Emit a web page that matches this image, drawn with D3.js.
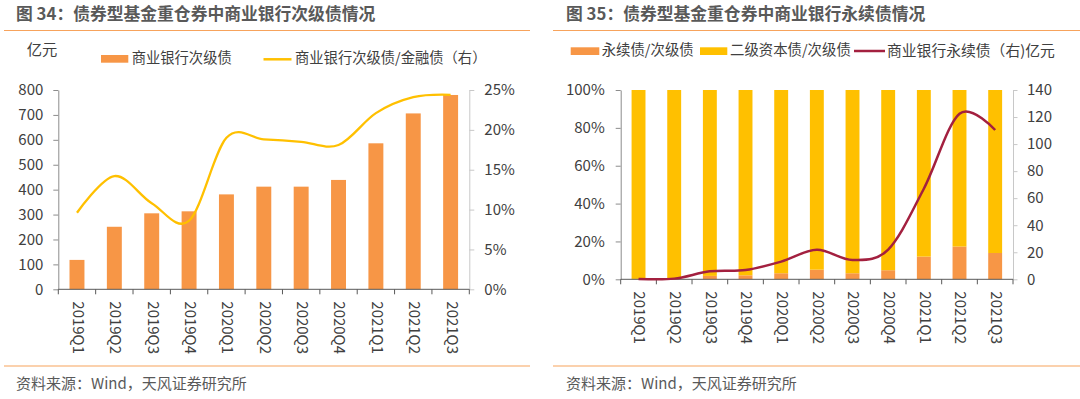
<!DOCTYPE html>
<html>
<head>
<meta charset="utf-8">
<script src="https://cdn.jsdelivr.net/npm/d3@7"></script>
<style>
  html, body { margin: 0; padding: 0; background: #fff; }
  svg { display: block; font-family: "Noto Sans CJK SC", "Noto Sans", sans-serif; }
</style>
</head>
<body>
<svg id="chart" width="1080" height="399"></svg>
<script>
// ---------------- DATA ----------------
const quarters = ["2019Q1","2019Q2","2019Q3","2019Q4","2020Q1","2020Q2","2020Q3","2020Q4","2021Q1","2021Q2","2021Q3"];

// Chart 34
const subDebt = [118, 251, 305, 313, 381, 412, 412, 439, 586, 706, 780];          // 亿元
const subDebtRatio = [9.6, 14.2, 10.8, 8.6, 19.0, 18.8, 18.5, 18.1, 22.1, 24.1, 24.4]; // %
const leftTicks34 = [0, 100, 200, 300, 400, 500, 600, 700, 800];
const rightTicks34 = [0, 5, 10, 15, 20, 25];

// Chart 35
const perpShare = [0.2, 0.4, 1.8, 2.1, 3.2, 5.1, 3.2, 4.8, 12.0, 17.3, 13.9];     // %
const tier2Share = perpShare.map(v => 100 - v);                                   // %
const perpAmount = [0.3, 0.5, 5.9, 6.9, 13.1, 21.8, 14.3, 22, 67, 122.5, 110.4];  // 亿元
const leftTicks35 = [0, 20, 40, 60, 80, 100];
const rightTicks35 = [0, 20, 40, 60, 80, 100, 120, 140];

const titles = ["图 34：债券型基金重仓券中商业银行次级债情况", "图 35：债券型基金重仓券中商业银行永续债情况"];
const source = "资料来源：Wind，天风证券研究所";

// ---------------- STYLE ----------------
const ORANGE = "#F79646", YELLOW = "#FFC000", CRIMSON = "#A3203F";
const TXT = "#404040", TITLE = "#595959", RULE = "#F7A35C";

const svg = d3.select("#chart");

// Titles, rules, source
[[16, 4, 530], [566, 553, 1080]].forEach(([tx, x0, x1], i) => {
  svg.append("text").attr("x", tx).attr("y", 19.8).attr("font-size", 16.8).attr("font-weight", "bold")
    .attr("fill", TITLE).text(titles[i]);
  svg.append("line").attr("x1", x0).attr("x2", x1).attr("y1", 30.5).attr("y2", 30.5)
    .attr("stroke", RULE).attr("stroke-width", 1.2);
  svg.append("line").attr("x1", x0).attr("x2", x1).attr("y1", 366).attr("y2", 366)
    .attr("stroke", RULE).attr("stroke-width", 1.2);
  svg.append("text").attr("x", tx).attr("y", 385).attr("dominant-baseline", "middle")
    .attr("font-size", 15).attr("fill", TITLE).text(source);
});

function styleAxis(g, color) {
  g.select(".domain").attr("stroke", color);
  g.selectAll(".tick line").attr("stroke", color);
  g.selectAll(".tick text").attr("fill", TXT).attr("font-size", 15)
    .attr("font-family", "'Noto Sans CJK SC', sans-serif");
}

function xAxisLabels(g, x, y0, off) {
  const r = x.range();
  g.append("line").attr("x1", r[0]).attr("x2", r[1]).attr("y1", y0).attr("y2", y0)
    .attr("stroke", "#595959").attr("stroke-width", 1);
  const bounds = quarters.map(q => x(q)).concat([r[1]]);
  g.selectAll("line.xt").data(bounds).join("line").attr("class", "xt")
    .attr("x1", d => d).attr("x2", d => d).attr("y1", y0).attr("y2", y0 + 5)
    .attr("stroke", "#595959");
  g.selectAll("text.xl").data(quarters).join("text").attr("class", "xl")
    .attr("transform", d => `translate(${x(d) + x.bandwidth() / 2},${y0 + off}) rotate(90)`)
    .attr("text-anchor", "start").attr("dominant-baseline", "middle")
    .attr("font-size", 15).attr("fill", TXT).text(d => d);
}

// ================= CHART 34 =================
{
  const g = svg.append("g");
  const x = d3.scaleBand().domain(quarters).range([58.3, 469.3]).padding(0);
  const yL = d3.scaleLinear().domain([0, 800]).range([289.3, 90]);
  const yR = d3.scaleLinear().domain([0, 25]).range([289.3, 90]);
  const bw = x.bandwidth() * 0.4;

  g.append("g").attr("transform", "translate(58.3,0)")
    .call(d3.axisLeft(yL).tickValues(leftTicks34).tickSize(5).tickPadding(10).tickSizeOuter(0))
    .call(a => styleAxis(a, "#8c8c8c"));
  g.append("g").attr("transform", "translate(469.3,0)")
    .call(d3.axisRight(yR).tickValues(rightTicks34).tickSize(5).tickPadding(10).tickSizeOuter(0)
      .tickFormat(d => d + "%"))
    .call(a => styleAxis(a, "#c8c8c8"));

  g.selectAll("rect.bar").data(subDebt).join("rect").attr("class", "bar")
    .attr("x", (d, i) => x(quarters[i]) + (x.bandwidth() - bw) / 2)
    .attr("width", bw)
    .attr("y", d => yL(d)).attr("height", d => yL(0) - yL(d))
    .attr("fill", ORANGE);

  xAxisLabels(g, x, 289.3, 12);

  const line = d3.line().x((d, i) => x(quarters[i]) + x.bandwidth() / 2).y(d => yR(d))
    .curve(d3.curveCardinal.tension(0));
  g.append("path").datum(subDebtRatio).attr("d", line).attr("fill", "none")
    .attr("stroke", YELLOW).attr("stroke-width", 2.3);

  // legend + unit
  g.append("text").attr("x", 26.7).attr("y", 51).attr("dominant-baseline", "middle")
    .attr("font-size", 15.3).attr("fill", TXT).text("亿元");
  g.append("rect").attr("x", 101).attr("y", 55).attr("width", 27.3).attr("height", 7.7).attr("fill", ORANGE);
  g.append("text").attr("x", 131.7).attr("y", 59.5).attr("dominant-baseline", "middle")
    .attr("font-size", 14.3).attr("fill", TXT).text("商业银行次级债");
  g.append("line").attr("x1", 263.5).attr("x2", 291.5).attr("y1", 59.3).attr("y2", 59.3)
    .attr("stroke", YELLOW).attr("stroke-width", 2.5);
  g.append("text").attr("x", 295).attr("y", 59.5).attr("dominant-baseline", "middle")
    .attr("font-size", 14.3).attr("fill", TXT).text("商业银行次级债/金融债（右）");
}

// ================= CHART 35 =================
{
  const g = svg.append("g");
  const x = d3.scaleBand().domain(quarters).range([620.7, 1013]).padding(0);
  const yL = d3.scaleLinear().domain([0, 100]).range([279.3, 90]);
  const yR = d3.scaleLinear().domain([0, 140]).range([279.3, 90]);
  const bw = x.bandwidth() * 0.39;

  g.append("g").attr("transform", "translate(620.7,0)")
    .call(d3.axisLeft(yL).tickValues(leftTicks35).tickSize(5).tickPadding(11).tickSizeOuter(0)
      .tickFormat(d => d + "%"))
    .call(a => styleAxis(a, "#8c8c8c"));
  g.append("g").attr("transform", "translate(1013,0)")
    .call(d3.axisRight(yR).tickValues(rightTicks35).tickSize(4.5).tickPadding(9.5).tickSizeOuter(0))
    .call(a => styleAxis(a, "#c8c8c8"));

  const stack = quarters.map((q, i) => ({ q, perp: perpShare[i], tier2: tier2Share[i] }));
  g.selectAll("rect.p").data(stack).join("rect").attr("class", "p")
    .attr("x", d => x(d.q) + (x.bandwidth() - bw) / 2).attr("width", bw)
    .attr("y", d => yL(d.perp)).attr("height", d => yL(0) - yL(d.perp))
    .attr("fill", ORANGE);
  g.selectAll("rect.t").data(stack).join("rect").attr("class", "t")
    .attr("x", d => x(d.q) + (x.bandwidth() - bw) / 2).attr("width", bw)
    .attr("y", d => yL(d.perp + d.tier2)).attr("height", d => yL(d.perp) - yL(d.perp + d.tier2))
    .attr("fill", YELLOW);

  xAxisLabels(g, x, 279.3, 12);

  const line = d3.line().x((d, i) => x(quarters[i]) + x.bandwidth() / 2).y(d => yR(d))
    .curve(d3.curveCardinal.tension(0));
  g.append("path").datum(perpAmount).attr("d", line).attr("fill", "none")
    .attr("stroke", CRIMSON).attr("stroke-width", 2.5);

  // legend
  g.append("rect").attr("x", 570.7).attr("y", 47.3).attr("width", 28.6).attr("height", 7.7).attr("fill", ORANGE);
  g.append("text").attr("x", 601.7).attr("y", 51.5).attr("dominant-baseline", "middle")
    .attr("font-size", 14.4).attr("fill", TXT).text("永续债/次级债");
  g.append("rect").attr("x", 700).attr("y", 47.3).attr("width", 27.3).attr("height", 7.7).attr("fill", YELLOW);
  g.append("text").attr("x", 730).attr("y", 51.5).attr("dominant-baseline", "middle")
    .attr("font-size", 14.4).attr("fill", TXT).text("二级资本债/次级债");
  g.append("line").attr("x1", 854).attr("x2", 885).attr("y1", 51).attr("y2", 51)
    .attr("stroke", CRIMSON).attr("stroke-width", 2.5);
  const lt = g.append("text").attr("x", 887).attr("y", 51.5).attr("dominant-baseline", "middle")
    .attr("font-size", 14.8).attr("fill", TXT).text("商业银行永续债（右)");
  const endX = 887 + lt.node().getComputedTextLength();
  g.append("text").attr("x", endX).attr("y", 51.5).attr("dominant-baseline", "middle")
    .attr("font-size", 14.8).attr("fill", TXT).text("亿元");
}
</script>
</body>
</html>
